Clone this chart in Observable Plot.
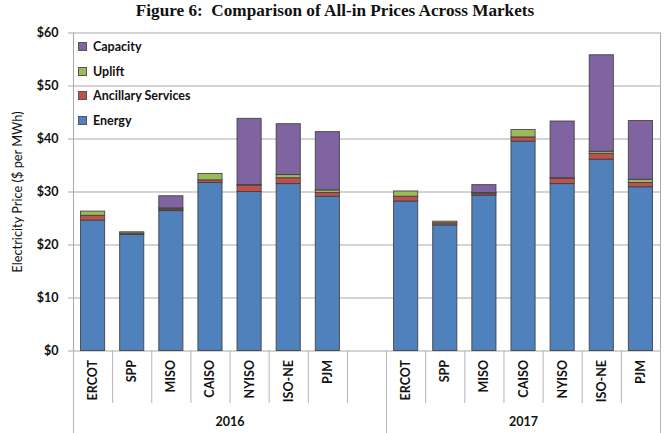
<!DOCTYPE html>
<html>
<head>
<meta charset="utf-8">
<script src="https://cdn.jsdelivr.net/npm/d3@7"></script>
<script src="https://cdn.jsdelivr.net/npm/@observablehq/plot@0.6"></script>
<style>
  html, body { margin: 0; padding: 0; background: #fff; }
  #wrap { position: relative; width: 670px; height: 433px; overflow: hidden; }
  #title { height: 20px; line-height: 21px; text-align: center; font-family: "Liberation Serif", serif; font-weight: bold; font-size: 17.2px; white-space: pre; color: #111; }
  #legend { position: absolute; left: 78px; top: 34.5px; font-family: Lato, "Open Sans", sans-serif; font-weight: bold; font-size: 12.5px; color: #111; }
  .li { height: 24.6px; display: flex; align-items: center; }
  .sw { width: 7px; height: 7px; border: 1px solid #555; margin-right: 6px; }
  svg { display: block; }
</style>
</head>
<body>
<div id="wrap">
  <div id="title">Figure 6:  Comparison of All-in Prices Across Markets</div>
  <div id="legend"></div>
  <div id="chart"></div>
</div>
<script>
const markets = ["ERCOT", "SPP", "MISO", "CAISO", "NYISO", "ISO-NE", "PJM"];
const years = ["2016", "2017"];
const components = ["Energy", "Ancillary Services", "Uplift", "Capacity"];
const colors = ["#4F81BD", "#C0504D", "#9BBB59", "#8064A2"];

// values per market, in order of markets
const energy2016   = [24.6, 21.9, 26.4, 31.7, 30.0, 31.5, 29.1];
const ancillary2016 = [0.9, 0.25, 0.3, 0.5, 1.2, 1.1, 0.7];
const uplift2016   = [0.8, 0.25, 0.2, 1.2, 0.1, 0.6, 0.5];
const capacity2016 = [0, 0, 2.3, 0, 12.5, 9.6, 11.0];

const energy2017   = [28.2, 23.7, 29.3, 39.5, 31.5, 36.1, 30.9];
const ancillary2017 = [0.9, 0.4, 0.3, 0.8, 1.0, 1.1, 0.8];
const uplift2017   = [1.0, 0.3, 0.2, 1.4, 0.1, 0.4, 0.6];
const capacity2017 = [0, 0, 1.5, 0, 10.7, 18.2, 11.1];

const yTicks = [0, 10, 20, 30, 40, 50, 60];

const series = {
  "2016": [energy2016, ancillary2016, uplift2016, capacity2016],
  "2017": [energy2017, ancillary2017, uplift2017, capacity2017]
};

// slot layout: 7 markets for 2016, one empty slot, 7 markets for 2017
const rows = [];
const labels = [];
years.forEach((yr, yi) => {
  const offset = yi === 0 ? 0 : markets.length + 1;
  markets.forEach((m, mi) => {
    const slot = offset + mi;
    labels.push({slot, market: m});
    components.forEach((c, ci) => {
      rows.push({slot, year: yr, market: m, component: c, value: series[yr][ci][mi]});
    });
  });
});
const nSlots = markets.length * 2 + 1;
const innerSeps = d3.range(1, nSlots).filter(s => s !== markets.length + 1);
const groupSeps = [0, markets.length + 1, nSlots];
const yearLabels = [
  {x: (markets.length + 1) / 2, text: years[0]},
  {x: markets.length + 1 + markets.length / 2, text: years[1]}
];

const font = "Lato, 'Open Sans', sans-serif";

const chart = Plot.plot({
  width: 670,
  height: 413,
  marginTop: 12.5,
  marginBottom: 82.5,
  marginLeft: 73,
  marginRight: 10,
  style: {fontFamily: font, fontSize: "12.5px", color: "#111", overflow: "visible"},
  x: {type: "linear", domain: [0, nSlots], axis: null},
  y: {domain: [0, 60], axis: null},
  color: {domain: components, range: colors},
  marks: [
    Plot.ruleY(yTicks, {y: d => d, stroke: "#a9a9a9", strokeWidth: 1}),
    Plot.ruleX([0, nSlots], {x: d => d, stroke: "#a9a9a9", strokeWidth: 1}),
    Plot.axisY({
      ticks: yTicks,
      tickFormat: d => "$" + d,
      tickSize: 5,
      tickPadding: 10,
      label: null,
      stroke: "#a9a9a9",
      fontWeight: "bold",
      fontSize: 12.5
    }),
    Plot.rectY(rows, Plot.stackY({
      x1: "slot",
      x2: d => d.slot + 1,
      y: "value",
      fill: "component",
      order: components,
      insetLeft: 7.5,
      insetRight: 7.5,
      stroke: "#3d3d3d",
      strokeWidth: 1,
      strokeOpacity: 0.85
    })),
    // category separators below the axis
    Plot.ruleX(innerSeps, {x: d => d, y1: 0, y2: 0, insetBottom: -52.5, stroke: "#b5b5b5"}),
    Plot.ruleX(groupSeps, {x: d => d, y1: 0, y2: 0, insetBottom: -83, stroke: "#b5b5b5"}),
    Plot.text(labels, {
      x: d => d.slot + 0.5,
      text: "market",
      frameAnchor: "bottom",
      dy: 9,
      rotate: -90,
      textAnchor: "end",
      lineAnchor: "middle",
      fontWeight: "bold",
      fontSize: 12.5,
      fill: "#111"
    }),
    Plot.text(yearLabels, {
      x: "x",
      text: "text",
      frameAnchor: "bottom",
      dy: 70.5,
      lineAnchor: "middle",
      fontWeight: "bold",
      fontSize: 12.5,
      fill: "#111"
    }),
    Plot.text(["Electricity Price ($ per MWh)"], {
      frameAnchor: "left",
      dx: -56,
      rotate: -90,
      lineAnchor: "middle",
      textAnchor: "middle",
      fontSize: 12.8,
      fill: "#111"
    })
  ]
});
document.getElementById("chart").appendChild(chart);

const legend = document.getElementById("legend");
components.slice().reverse().forEach(c => {
  const row = document.createElement("div");
  row.className = "li";
  const sw = document.createElement("span");
  sw.className = "sw";
  sw.style.background = colors[components.indexOf(c)];
  const t = document.createElement("span");
  t.textContent = c;
  row.appendChild(sw);
  row.appendChild(t);
  legend.appendChild(row);
});
</script>
</body>
</html>
